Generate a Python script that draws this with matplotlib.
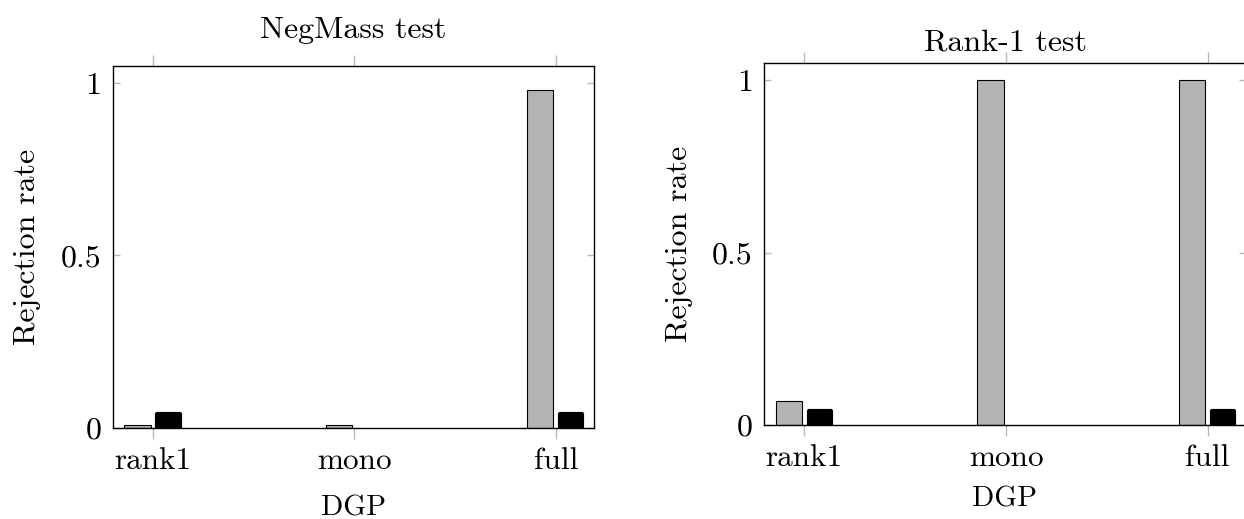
import matplotlib
matplotlib.use("Agg")
import matplotlib.pyplot as plt
import numpy as np

plt.rcParams["font.family"] = ["cmr10", "DejaVu Serif"]
plt.rcParams["axes.formatter.use_mathtext"] = True
plt.rcParams["font.size"] = 21

categories = ["rank1", "mono", "full"]
titles = ["NegMass test", "Rank-1 test"]

# gray series (first bar in each group) and black series (second bar)
negmass_gray = [0.01, 0.01, 0.98]
negmass_black = [0.04, 0.0, 0.04]
rank1_gray = [0.07, 1.0, 1.0]
rank1_black = [0.04, 0.0, 0.04]

yticks = [0, 0.5, 1]
ytick_labels = ["0", "0.5", "1"]

fig = plt.figure(figsize=(12.44, 5.19), dpi=100)
ax_l = fig.add_axes([0.0906, 0.1753, 0.3869, 0.6981])
ax_r = fig.add_axes([0.6141, 0.1811, 0.3875, 0.6975])

x = np.arange(len(categories))
width = 0.13
off = 0.077

for ax, title, gray, black, tpad, xpad in [
    (ax_l, titles[0], negmass_gray, negmass_black, 20, 14),
    (ax_r, titles[1], rank1_gray, rank1_black, 9, 10),
]:
    ax.bar(x - off, gray, width, color="#b3b3b3", edgecolor="black",
           linewidth=0.8, zorder=2)
    lws = [3.0 if v > 0 else 0.0 for v in black]
    ax.bar(x + off, black, width * 0.85, color="black", edgecolor="black",
           linewidth=lws, joinstyle="round", zorder=2)
    ax.set_xlim(-0.2, 2.19)
    ax.set_ylim(0, 1.05)
    ax.set_xticks(x)
    ax.set_xticklabels(categories, fontsize=22.5)
    ax.set_yticks(yticks)
    ax.set_yticklabels(ytick_labels, fontsize=23)
    ax.tick_params(axis="x", direction="out", length=8, width=1.0,
                   color="#b8b8b8", top=True, bottom=True, pad=6)
    ax.tick_params(axis="y", direction="in", length=5, width=1.0,
                   color="#b8b8b8", left=True, right=True, pad=8)
    for s in ax.spines.values():
        s.set_linewidth(1.0)
        s.set_color("black")
        s.set_zorder(3)
    ax.set_xlabel("DGP", labelpad=xpad, fontsize=21)
    ax.set_ylabel("Rejection rate", labelpad=14, fontsize=23)
    ax.set_title(title, pad=tpad, fontsize=23)

fig.savefig("out.png", dpi=100)
